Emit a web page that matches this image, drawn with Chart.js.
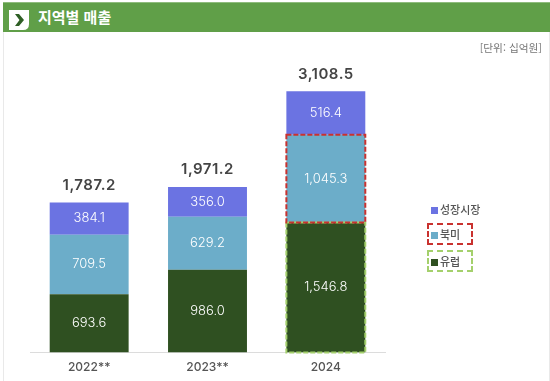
<!DOCTYPE html>
<html lang="ko">
<head>
<meta charset="utf-8">
<title>지역별 매출</title>
<script src="https://cdn.jsdelivr.net/npm/chart.js@4/dist/chart.umd.min.js"></script>
<style>
  html, body { margin: 0; padding: 0; background: #fff; }
  body { position: relative; width: 550px; height: 381px; overflow: hidden; font-family: "Noto Sans CJK KR", sans-serif; color: #555; }
  #chart { position: absolute; left: 0; top: 0; }
  .frame { position: absolute; top: 32px; bottom: 0; width: 1px; background: #e9e9e9; }
  #header { position: absolute; left: 3px; top: 2px; width: 547px; height: 30px; background: #609f48; border-top: 1px solid #8fbc7d; box-sizing: border-box; }
  #header svg { position: absolute; left: 6px; top: 7px; }
  #header span { position: absolute; left: 35px; top: 4px; font-size: 15px; line-height: 20px; font-weight: 700; color: #fff; }
  #unit { position: absolute; right: 8px; top: 41px; font-size: 10.7px; line-height: 14px; color: #777; }
  .item { position: absolute; height: 18px; font-size: 11px; line-height: 18px; font-weight: 500; color: #555; white-space: nowrap; box-sizing: border-box; }
  .item i { display: inline-block; width: 7px; height: 7px; margin-right: 2px; }
</style>
</head>
<body>
<canvas id="chart" width="550" height="383"></canvas>
<div class="frame" style="left:3px"></div>
<div class="frame" style="left:549px"></div>
<div id="header">
  <svg width="20" height="20" viewBox="0 0 20 20"><path d="M0 0H20V14Q20 20 14 20H0Z" fill="#fff"/><path d="M6 4L10 4L15 10L10 16L6 16L10.500 10Z" fill="#2f5f25"/></svg>
  <span>지역별 매출</span>
</div>
<div id="unit">[단위: 십억원]</div>
<div id="legend"></div>
<script>
const categories = ['2022**', '2023**', '2024'];
const europe = [693.6, 986.0, 1546.8];
const northAmerica = [709.5, 629.2, 1045.3];
const growth = [384.1, 356.0, 516.4];
const totals = [1787.2, 1971.2, 3108.5];

const fmt = v => v.toLocaleString('en-US', { minimumFractionDigits: 1, maximumFractionDigits: 1 });
const numFont = 'Inter, sans-serif';

// value labels, totals and the dashed boxes on the 2024 bar
const overlay = {
  id: 'overlay',
  afterDatasetsDraw(chart) {
    const { ctx } = chart;
    ctx.save();
    ctx.textAlign = 'center';
    ctx.textBaseline = 'middle';
    chart.data.datasets.forEach((ds, i) => {
      chart.getDatasetMeta(i).data.forEach((bar, j) => {
        ctx.font = '300 13px ' + numFont;
        ctx.fillStyle = '#fff';
        ctx.fillText(fmt(ds.data[j]), bar.x, (bar.y + bar.base) / 2);
      });
    });
    ctx.letterSpacing = '0.5px';
    chart.getDatasetMeta(2).data.forEach((bar, j) => {
      ctx.font = '600 15px ' + numFont;
      ctx.fillStyle = '#444';
      ctx.fillText(fmt(totals[j]), bar.x, bar.y - 17);
    });
    ctx.letterSpacing = '0px';
    const box = (bar, color) => {
      ctx.strokeStyle = color;
      ctx.lineWidth = 2;
      ctx.setLineDash([5, 2]);
      ctx.strokeRect(bar.x - bar.width / 2, bar.y, bar.width, bar.base - bar.y);
    };
    box(chart.getDatasetMeta(0).data[2], '#a4d06c');
    box(chart.getDatasetMeta(1).data[2], '#c9322f');
    ctx.restore();
  }
};

const chart = new Chart(document.getElementById('chart'), {
  type: 'bar',
  data: {
    labels: categories,
    datasets: [
      { label: '유럽', data: europe, backgroundColor: '#2f5021' },
      { label: '북미', data: northAmerica, backgroundColor: '#6cadc9' },
      { label: '성장시장', data: growth, backgroundColor: '#6b73e2' }
    ]
  },
  options: {
    responsive: false,
    animation: false,
    barPercentage: 1,
    categoryPercentage: 0.667,
    layout: { padding: { left: 30, right: 165, top: 50, bottom: 0 } },
    plugins: { legend: { display: false }, tooltip: { enabled: false } },
    scales: {
      x: {
        stacked: true,
        grid: { display: false, drawTicks: false },
        border: { color: '#dcdcdc', width: 1 },
        ticks: { color: '#555', font: { family: numFont, size: 12, weight: '500' }, padding: 8 }
      },
      y: { stacked: true, display: false, min: 0, max: 3600 }
    }
  },
  plugins: [overlay]
});

// legend built from the datasets, top of the stack first
const legendPos = [
  { left: 431, top: 200, box: '' },
  { left: 427, top: 223, box: '#c9322f' },
  { left: 427, top: 250, box: '#a4d06c' }
];
const legend = document.getElementById('legend');
[...chart.data.datasets].reverse().forEach((ds, i) => {
  const p = legendPos[i];
  const el = document.createElement('div');
  el.className = 'item';
  el.style.left = p.left + 'px';
  el.style.top = p.top + 'px';
  if (p.box) {
    el.style.border = '2px dashed ' + p.box;
    el.style.height = '22px';
    el.style.width = '46px';
    el.style.paddingLeft = '2px';
  }
  el.innerHTML = `<i style="background:${ds.backgroundColor}"></i>${ds.label}`;
  legend.appendChild(el);
});
</script>
</body>
</html>
